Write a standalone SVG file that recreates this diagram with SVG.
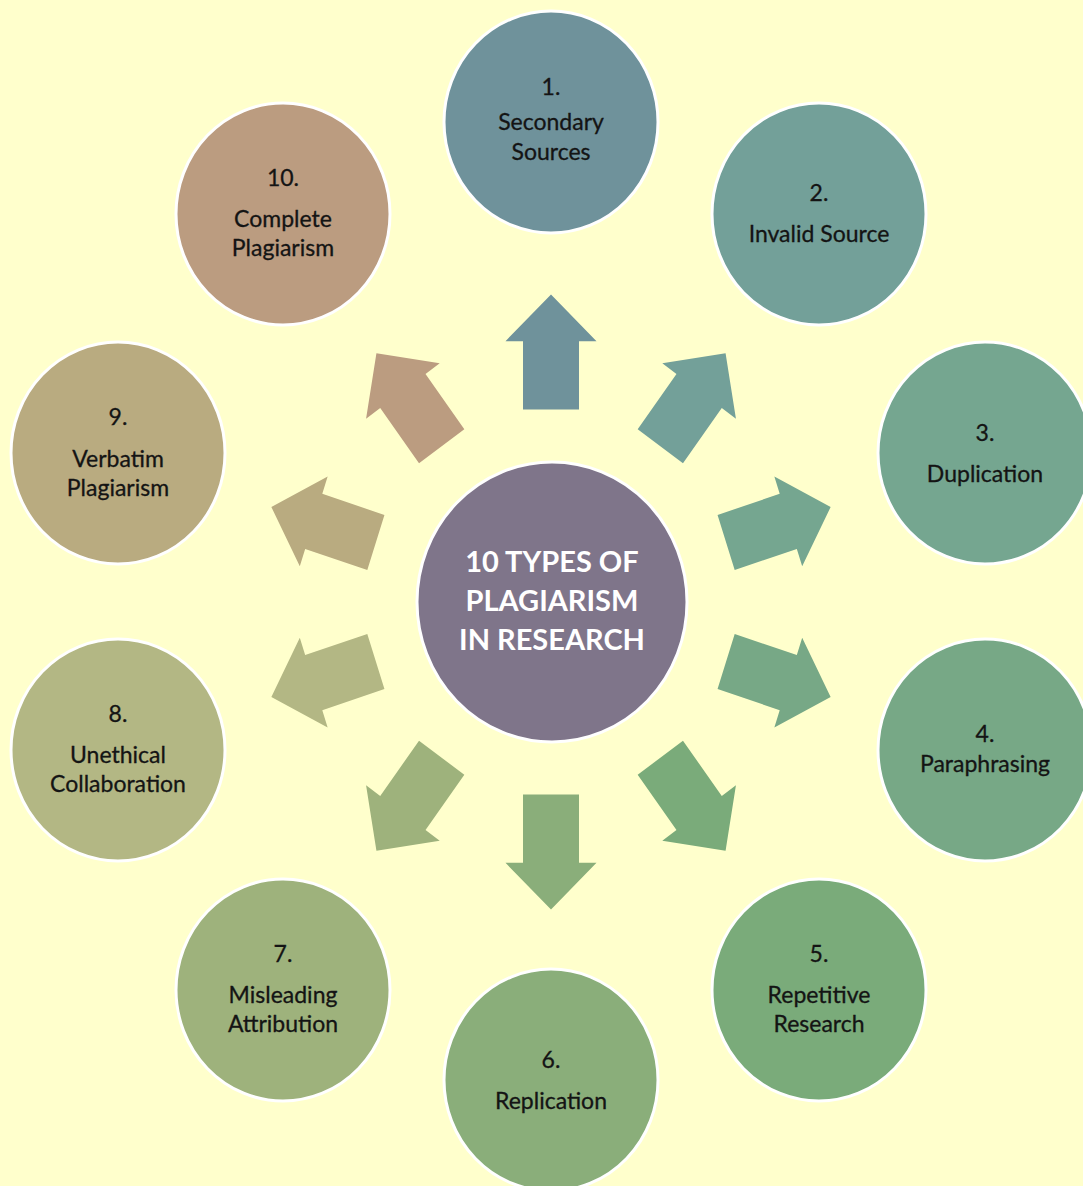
<svg xmlns="http://www.w3.org/2000/svg" width="1083" height="1186" viewBox="0 0 1083 1186">
<style>
.node{stroke:#ffffff;stroke-width:3}
.lbl{font-family:Lato,"Liberation Sans",sans-serif;font-size:23px;fill:#141414;stroke:#141414;stroke-width:0.3;text-anchor:middle}
.title{font-family:Lato,"Liberation Sans",sans-serif;font-size:29px;font-weight:bold;fill:#ffffff;text-anchor:middle}
</style>
<defs>
<path id="arr" d="M -28,-186 L -28,-252 L -45.5,-252 L 0,-297 L 45.5,-252 L 28,-252 L 28,-186 Z"/>
</defs>
<rect width="1083" height="1186" fill="#ffffcc"/>
<g id="connectors">
<use href="#arr" fill="#6f929b" transform="translate(551,602) scale(1,1.035) rotate(0)"/>
<use href="#arr" fill="#73a099" transform="translate(551,602) scale(1,1.035) rotate(36)"/>
<use href="#arr" fill="#75a690" transform="translate(551,602) scale(0.99,1.035) rotate(72)"/>
<use href="#arr" fill="#77a886" transform="translate(551,602) scale(0.99,1.035) rotate(108)"/>
<use href="#arr" fill="#7aab7a" transform="translate(551,602) scale(1,1.035) rotate(144)"/>
<use href="#arr" fill="#8aae7a" transform="translate(551,602) scale(1,1.035) rotate(180)"/>
<use href="#arr" fill="#9eb27c" transform="translate(551,602) scale(1,1.035) rotate(216)"/>
<use href="#arr" fill="#b3b784" transform="translate(551,602) scale(0.99,1.035) rotate(252)"/>
<use href="#arr" fill="#b9ab80" transform="translate(551,602) scale(0.99,1.035) rotate(288)"/>
<use href="#arr" fill="#bb9c80" transform="translate(551,602) scale(1,1.035) rotate(324)"/>
</g>
<g id="center">
<ellipse class="node" cx="552" cy="602" rx="135" ry="140" fill="#7f758a"/>
<text class="title" x="552" y="572">10 TYPES OF</text>
<text class="title" x="552" y="611">PLAGIARISM</text>
<text class="title" x="552" y="650">IN RESEARCH</text>
</g>
<g id="n1">
<ellipse class="node" cx="551" cy="122" rx="107" ry="111" fill="#6f929b"/>
<text class="lbl" x="551" y="95">1.</text>
<text class="lbl" x="551" y="130">Secondary</text>
<text class="lbl" x="551" y="160">Sources</text>
</g>
<g id="n2">
<ellipse class="node" cx="819" cy="214" rx="107" ry="111" fill="#73a099"/>
<text class="lbl" x="819" y="201">2.</text>
<text class="lbl" x="819" y="242">Invalid Source</text>
</g>
<g id="n3">
<ellipse class="node" cx="985" cy="453" rx="107" ry="111" fill="#75a690"/>
<text class="lbl" x="985" y="441">3.</text>
<text class="lbl" x="985" y="482">Duplication</text>
</g>
<g id="n4">
<ellipse class="node" cx="985" cy="750" rx="107" ry="111" fill="#77a886"/>
<text class="lbl" x="985" y="742">4.</text>
<text class="lbl" x="985" y="772">Paraphrasing</text>
</g>
<g id="n5">
<ellipse class="node" cx="819" cy="990" rx="107" ry="111" fill="#7aab7a"/>
<text class="lbl" x="819" y="962">5.</text>
<text class="lbl" x="819" y="1003">Repetitive</text>
<text class="lbl" x="819" y="1032">Research</text>
</g>
<g id="n6">
<ellipse class="node" cx="551" cy="1080" rx="107" ry="111" fill="#8aae7a"/>
<text class="lbl" x="551" y="1068">6.</text>
<text class="lbl" x="551" y="1109">Replication</text>
</g>
<g id="n7">
<ellipse class="node" cx="283" cy="990" rx="107" ry="111" fill="#9eb27c"/>
<text class="lbl" x="283" y="962">7.</text>
<text class="lbl" x="283" y="1003">Misleading</text>
<text class="lbl" x="283" y="1032">Attribution</text>
</g>
<g id="n8">
<ellipse class="node" cx="118" cy="750" rx="107" ry="111" fill="#b3b784"/>
<text class="lbl" x="118" y="722">8.</text>
<text class="lbl" x="118" y="763">Unethical</text>
<text class="lbl" x="118" y="792">Collaboration</text>
</g>
<g id="n9">
<ellipse class="node" cx="118" cy="453" rx="107" ry="111" fill="#b9ab80"/>
<text class="lbl" x="118" y="425">9.</text>
<text class="lbl" x="118" y="467">Verbatim</text>
<text class="lbl" x="118" y="496">Plagiarism</text>
</g>
<g id="n10">
<ellipse class="node" cx="283" cy="214" rx="107" ry="111" fill="#bb9c80"/>
<text class="lbl" x="283" y="186">10.</text>
<text class="lbl" x="283" y="227">Complete</text>
<text class="lbl" x="283" y="256">Plagiarism</text>
</g>
</svg>
